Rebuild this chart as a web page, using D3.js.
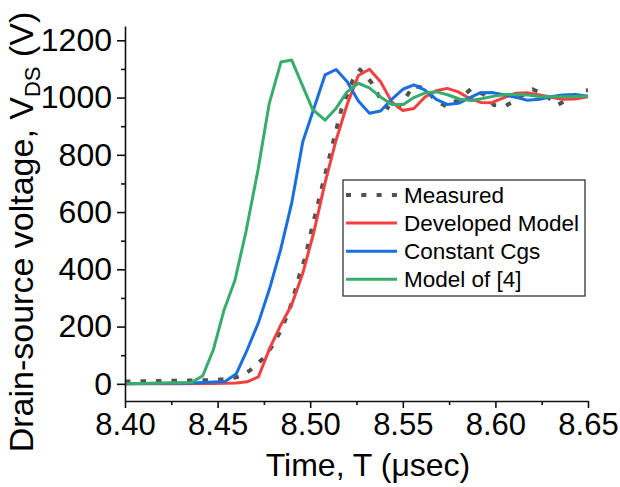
<!DOCTYPE html>
<html>
<head>
<meta charset="utf-8">
<script src="https://cdn.jsdelivr.net/npm/d3@7/dist/d3.min.js"></script>
<style>
  html, body { margin: 0; padding: 0; background: #fff; }
  svg { display: block; font-family: "Liberation Sans", Arial, sans-serif; }
</style>
</head>
<body>
<svg id="chart" width="620" height="487"></svg>
<script>
// Switching transient of the drain-source voltage (time in µs, voltage in V)
const measuredT = [8.400, 8.4288, 8.4459, 8.454, 8.4621, 8.4675, 8.474, 8.4794, 8.4842, 8.4873, 8.490, 8.4945, 8.4972, 8.5008, 8.5049, 8.5089, 8.5129, 8.517, 8.523, 8.5269, 8.5328, 8.5362, 8.5398, 8.5454, 8.5508, 8.5557, 8.562, 8.5674, 8.5741, 8.5809, 8.5867, 8.5935, 8.5992, 8.6057, 8.6127, 8.6201, 8.6268, 8.6336, 8.6403, 8.6475, 8.650];
const measuredV = [8, 11, 13, 16, 25, 47, 85, 131, 187, 235, 282, 386, 439, 540, 648, 753, 858, 962, 1061, 1098, 1055, 1015, 973, 951, 992, 1041, 1032, 992, 967, 997, 1029, 1012, 974, 971, 1001, 1029, 1009, 974, 998, 1024, 1026];

const modelT = [8.400, 8.430, 8.448, 8.460, 8.466, 8.472, 8.478, 8.484, 8.490, 8.496, 8.502, 8.508, 8.514, 8.520, 8.526, 8.532, 8.538, 8.544, 8.550, 8.556, 8.562, 8.568, 8.574, 8.580, 8.586, 8.592, 8.598, 8.605, 8.611, 8.617, 8.624, 8.630, 8.636, 8.643, 8.650];
const developedV = [0, 0, 1, 3, 7, 24, 122, 204, 276, 386, 531, 702, 852, 977, 1077, 1099, 1055, 985, 955, 962, 1002, 1024, 1032, 1020, 997, 983, 982, 1001, 1015, 1017, 1009, 1001, 994, 995, 1003];

const constCgsT = [8.400, 8.436, 8.454, 8.460, 8.466, 8.472, 8.478, 8.484, 8.490, 8.496, 8.502, 8.508, 8.514, 8.520, 8.526, 8.532, 8.538, 8.544, 8.550, 8.556, 8.562, 8.568, 8.574, 8.580, 8.586, 8.592, 8.598, 8.605, 8.611, 8.617, 8.624, 8.630, 8.636, 8.643, 8.650];
const constCgsV = [0, 3, 8, 34, 119, 213, 331, 468, 631, 846, 962, 1079, 1098, 1055, 988, 945, 953, 994, 1029, 1044, 1026, 994, 976, 980, 999, 1017, 1018, 1009, 1001, 991, 994, 1003, 1009, 1011, 1005];

const ref4T = [8.400, 8.436, 8.442, 8.4477, 8.4535, 8.4594, 8.4653, 8.4718, 8.4778, 8.4842, 8.490, 8.5013, 8.508, 8.5139, 8.5199, 8.526, 8.5319, 8.5382, 8.544, 8.5503, 8.5562, 8.5625, 8.5683, 8.5746, 8.5809, 8.5872, 8.5931, 8.5994, 8.6061, 8.6115, 8.6178, 8.6241, 8.6304, 8.6367, 8.650];
const ref4V = [0, 5, 28, 119, 258, 363, 531, 747, 977, 1124, 1131, 959, 921, 962, 1020, 1050, 1034, 1001, 976, 976, 1001, 1017, 1020, 1009, 994, 990, 997, 1005, 1011, 1011, 1009, 1003, 1003, 1003, 1005];

const seriesNames = ["Measured", "Developed Model", "Constant Cgs", "Model of [4]"];
const seriesColors = ["#515151", "#F14040", "#1A6FDF", "#37AD6B"];

const xTicks = [8.40, 8.45, 8.50, 8.55, 8.60, 8.65];
const xMinorTicks = [8.425, 8.475, 8.525, 8.575, 8.625];
const yTicks = [0, 200, 400, 600, 800, 1000, 1200];
const yMinorTicks = [100, 300, 500, 700, 900, 1100];

const svg = d3.select("#chart");

const x = d3.scaleLinear().domain([8.40, 8.65]).range([125, 588]);
const y = d3.scaleLinear().domain([-60, 1250]).range([401, 26]);

const series = [
  { name: seriesNames[0], color: seriesColors[0], t: measuredT, v: measuredV, dash: "5.5,10", width: 4 },
  { name: seriesNames[1], color: seriesColors[1], t: modelT, v: developedV, dash: null, width: 3 },
  { name: seriesNames[2], color: seriesColors[2], t: constCgsT, v: constCgsV, dash: null, width: 3 },
  { name: seriesNames[3], color: seriesColors[3], t: ref4T, v: ref4V, dash: null, width: 3 }
];

const line = d3.line().x(d => x(d[0])).y(d => y(d[1]));

// curves
const plot = svg.append("g");
series.forEach(s => {
  plot.append("path")
    .datum(s.t.map((t, i) => [t, s.v[i]]))
    .attr("fill", "none")
    .attr("stroke", s.color)
    .attr("stroke-width", s.width)
    .attr("stroke-linejoin", "round")
    .attr("stroke-dasharray", s.dash)
    .attr("d", line);
});

// axes
svg.append("g")
  .attr("class", "x-axis")
  .attr("transform", `translate(0,${y.range()[0]})`)
  .call(d3.axisBottom(x).tickValues(xTicks).tickFormat(d3.format(".2f"))
    .tickSize(7).tickSizeOuter(0).tickPadding(5));
svg.append("g")
  .attr("transform", `translate(0,${y.range()[0]})`)
  .call(d3.axisBottom(x).tickValues(xMinorTicks).tickFormat("").tickSize(4).tickSizeOuter(0))
  .select(".domain").remove();

svg.append("g")
  .attr("class", "y-axis")
  .attr("transform", `translate(${x.range()[0]},0)`)
  .call(d3.axisLeft(y).tickValues(yTicks).tickFormat(d3.format("d"))
    .tickSize(8).tickSizeOuter(0).tickPadding(5));
svg.append("g")
  .attr("transform", `translate(${x.range()[0]},0)`)
  .call(d3.axisLeft(y).tickValues(yMinorTicks).tickFormat("").tickSize(4).tickSizeOuter(0))
  .select(".domain").remove();

svg.selectAll(".domain, .tick line").attr("stroke", "#111").attr("stroke-width", 1.6);
svg.selectAll(".tick text")
  .attr("font-family", "'Liberation Sans', Arial, sans-serif")
  .attr("fill", "#000");
svg.selectAll(".x-axis .tick text").attr("font-size", 31);
svg.selectAll(".y-axis .tick text").attr("font-size", 32);

// axis titles
svg.append("text")
  .attr("x", 368).attr("y", 476)
  .attr("text-anchor", "middle")
  .attr("font-size", 32)
  .text("Time, T (\u03BCsec)");

const yTitle = svg.append("text")
  .attr("transform", "translate(33,232) rotate(-90)")
  .attr("text-anchor", "middle")
  .attr("font-size", 34);
yTitle.append("tspan").text("Drain-source voltage, V");
yTitle.append("tspan").attr("font-size", 22).attr("dy", 7).text("DS");
yTitle.append("tspan").attr("dy", -7).text(" (V)");

// legend
const legend = svg.append("g");
legend.append("rect")
  .attr("x", 343).attr("y", 180).attr("width", 242).attr("height", 116)
  .attr("fill", "#fff").attr("stroke", "#333").attr("stroke-width", 1.3);
series.forEach((s, i) => {
  const cy = 195 + i * 28.1;
  legend.append("line")
    .attr("x1", 346).attr("x2", 397).attr("y1", cy).attr("y2", cy)
    .attr("stroke", s.color)
    .attr("stroke-width", s.dash ? 4 : 3)
    .attr("stroke-dasharray", s.dash ? "5,10.3" : null);
  legend.append("text")
    .attr("x", 404).attr("y", cy + 8)
    .attr("font-size", 22.5)
    .text(s.name);
});
</script>
</body>
</html>
